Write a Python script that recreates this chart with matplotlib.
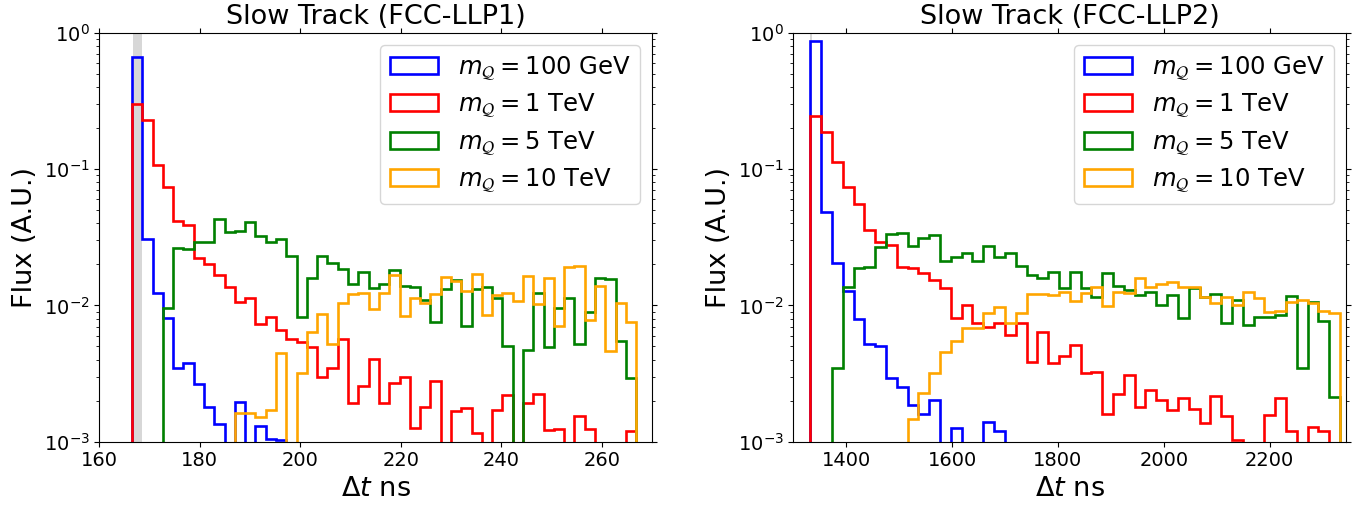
import numpy as np
import matplotlib
matplotlib.use("Agg")
import matplotlib.pyplot as plt

# ---------------- data ----------------
# LLP1 panel: 49 bins between these limits (ns)
llp1_range = (166.5, 266.8)
llp1_nbins = 49
llp1_100gev = [0.659, 0.0307, 0.01225, 0.00803, 0.00349, 0.0038, 0.00265, 0.00181, 0.00135, 0,
               0.00195, 0, 0.0013, 0.00105, 0.00103] + [0] * 34
llp1_1tev = [0.300, 0.229, 0.108, 0.0742, 0.0418, 0.0388, 0.0224, 0.0200, 0.0167, 0.0137,
             0.01064, 0.01125, 0.0073, 0.00817, 0.00659, 0.00563, 0.00536, 0.00492, 0.0030, 0.00349,
             0.00563, 0.00193, 0.00258, 0.00402, 0.00193, 0.00271, 0.00297, 0.00125, 0.00181, 0.00279,
             0, 0.00169, 0.00176, 0.00115, 0, 0.0017, 0.0022, 0, 0.00193, 0.00222,
             0.00122, 0.00123, 0, 0.00154, 0.00123, 0, 0, 0, 0.00119]
llp1_5tev = [0, 0, 0, 0.00962, 0.0265, 0.0258, 0.0293, 0.0293, 0.0432, 0.0345,
             0.0351, 0.0406, 0.0323, 0.0293, 0.0307, 0.0230, 0.00826, 0.0158, 0.0229, 0.0203,
             0.0184, 0.01426, 0.0176, 0.0134, 0.01435, 0.01815, 0.01387, 0.0137, 0.01094, 0.0076,
             0.01313, 0.01534, 0.0071, 0.0131, 0.0137, 0.01127, 0.00506, 0, 0.00471, 0.01239,
             0.00498, 0.00962, 0.01127, 0.00521, 0.0090, 0.01578, 0.01552, 0.00551, 0.00292]
llp1_10tev = [0, 0, 0, 0, 0, 0, 0, 0, 0, 0,
              0.00163, 0.00163, 0.00153, 0.00171, 0.00445, 0, 0.00318, 0.00641, 0.00864, 0.0052,
              0.01047, 0.01211, 0.01225, 0.00935, 0.0124, 0.0167, 0.00835, 0.01127, 0.01047, 0.01204,
              0.0162, 0.0152, 0.01283, 0.0169, 0.0085, 0.0119, 0.0124, 0.0108, 0.0164, 0.01023,
              0.01578, 0.00705, 0.0190, 0.01944, 0.00782, 0.01387, 0.00466, 0.01047, 0.0076]

# LLP2 panel
llp2_range = (1332.0, 2333.0)
llp2_nbins = 49
llp2_100gev = [0.869, 0.0481, 0.0206, 0.0128, 0.00789, 0.00518, 0.00506, 0.00294, 0.00253, 0.00186,
               0.0016, 0.00202, 0, 0.00127, 0, 0, 0.0014, 0.0012] + [0] * 31
llp2_1tev = [0.245, 0.188, 0.112, 0.0742, 0.0553, 0.0357, 0.0293, 0.0277, 0.0190, 0.0188,
             0.0174, 0.01534, 0.01333, 0.00803, 0.01005, 0.00738, 0.00698, 0.00738, 0.00606, 0.00746,
             0.00386, 0.00641, 0.0038, 0.00425, 0.00512, 0.00321, 0.00326, 0.00161, 0.00224, 0.00308,
             0.00181, 0.00239, 0.00202, 0.00171, 0.00208, 0.00175, 0.00138, 0.00216, 0.00154, 0.00103,
             0, 0, 0.00157, 0.00208, 0.00119, 0, 0.00129, 0.0012, 0]
llp2_5tev = [0, 0, 0.00345, 0.01355, 0.01868, 0.0192, 0.0266, 0.0334, 0.0337, 0.0272,
             0.0313, 0.0328, 0.0213, 0.0225, 0.0241, 0.0212, 0.0272, 0.0228, 0.0241, 0.01944,
             0.01668, 0.01578, 0.01766, 0.01333, 0.01766, 0.01333, 0.01145, 0.01718, 0.01387, 0.01295,
             0.0119, 0.0126, 0.0101, 0.0119, 0.00813, 0.01333, 0.01159, 0.01205, 0.00746, 0.01094,
             0.00718, 0.00826, 0.00817, 0.0085, 0.01172, 0.00345, 0.01064, 0.00773, 0.00212]
llp2_10tev = [0] * 9 + [0.00146, 0.00229, 0.00321, 0.00457, 0.00551,
                        0.00686, 0.00686, 0.00874, 0.00978, 0.00738,
                        0.00874, 0.01211, 0.0121, 0.0119, 0.01259,
                        0.0108, 0.01225, 0.01371, 0.00989, 0.0126,
                        0.01225, 0.01578, 0.0137, 0.01435, 0.0149,
                        0.0137, 0.01355, 0.01159, 0.01047, 0.01159,
                        0.01006, 0.0126, 0.01127, 0.0090, 0.0091,
                        0.01064, 0.01094, 0.01033, 0.00914, 0.00883]

labels = [r"$m_{\mathcal{Q}} = 100$ GeV", r"$m_{\mathcal{Q}} = 1$ TeV",
          r"$m_{\mathcal{Q}} = 5$ TeV", r"$m_{\mathcal{Q}} = 10$ TeV"]
colors = ["blue", "red", "green", "orange"]
titles = ["Slow Track (FCC-LLP1)", "Slow Track (FCC-LLP2)"]

# ---------------- plot ----------------
fig = plt.figure(figsize=(13.69, 5.08), dpi=100)
ax1 = fig.add_axes([0.0725, 0.1305, 0.4040, 0.8050])
ax2 = fig.add_axes([0.5795, 0.1305, 0.4040, 0.8050])

panels = [
    (ax1, llp1_range, llp1_nbins, [llp1_100gev, llp1_1tev, llp1_5tev, llp1_10tev],
     (166.8, 168.6), (160, 270), [160, 180, 200, 220, 240, 260]),
    (ax2, llp2_range, llp2_nbins, [llp2_100gev, llp2_1tev, llp2_5tev, llp2_10tev],
     (1332, 1336), (1300, 2345), [1400, 1600, 1800, 2000, 2200]),
]

for (ax, rng, nb, series, span, xlim, xt), title in zip(panels, titles):
    edges = np.linspace(rng[0], rng[1], nb + 1)
    centers = 0.5 * (edges[:-1] + edges[1:])
    ax.axvspan(span[0], span[1], color="lightgray", alpha=0.9, zorder=0, lw=0)
    for vals, c, lab in zip(series, colors, labels):
        ax.hist(centers, bins=edges, weights=vals, histtype="step", color=c,
                lw=1.9, label=lab, log=True)
    ax.set_yscale("log", nonpositive="clip")
    ax.set_ylim(1e-3, 1)
    ax.set_xlim(*xlim)
    ax.set_xticks(xt)
    ax.tick_params(axis="both", which="both", top=True, right=True, labelsize=14)
    ax.set_title(title, fontsize=19.5)
    ax.set_xlabel(r"$\Delta t$ ns", fontsize=19.5)
    ax.set_ylabel("Flux (A.U.)", fontsize=19.5)
    ax.legend(loc="upper right", fontsize=17.5, labelspacing=0.42)

fig.savefig("out.png", dpi=100)
